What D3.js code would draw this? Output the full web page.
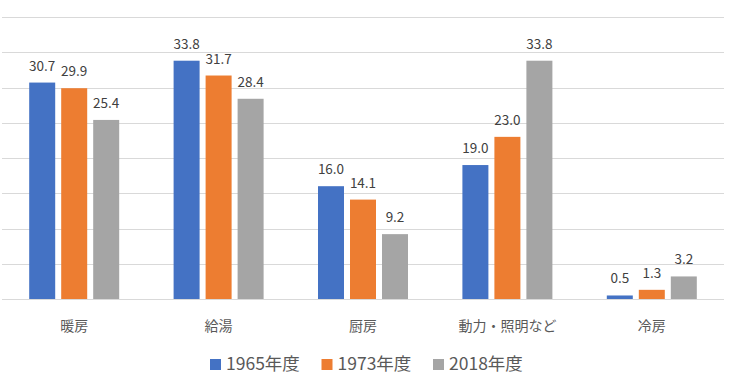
<!DOCTYPE html>
<html>
<head>
<meta charset="utf-8">
<script src="https://cdn.jsdelivr.net/npm/d3@7"></script>
<style>
  body { margin: 0; background: #fff; }
  text { font-family: "Noto Sans CJK JP", "Noto Sans", sans-serif; }
</style>
</head>
<body>
<svg id="drawing_region"></svg>
<script>
const categories = ["暖房", "給湯", "厨房", "動力・照明など", "冷房"];
const seriesNames = ["1965年度", "1973年度", "2018年度"];
const values1965 = [30.7, 33.8, 16.0, 19.0, 0.5];
const values1973 = [29.9, 31.7, 14.1, 23.0, 1.3];
const values2018 = [25.4, 28.4, 9.2, 33.8, 3.2];
const colors = ["#4472C4", "#ED7D31", "#A5A5A5"];
const yTicks = [0, 5, 10, 15, 20, 25, 30, 35, 40];

const W = 730, H = 384;
const margin = {top: 17, right: 6, bottom: 85, left: 2};
const innerW = W - margin.left - margin.right;
const innerH = H - margin.top - margin.bottom;

const svg = d3.select('#drawing_region')
    .attr('width', W)
    .attr('height', H);

const chart = svg.append('g')
    .attr('transform', `translate(${margin.left}, ${margin.top})`);

const xscale = d3.scaleBand()
    .domain(categories)
    .range([0, innerW]);

const yscale = d3.scaleLinear()
    .domain([0, 40])
    .range([innerH, 0]);

// gridlines
chart.append('g')
    .selectAll('line')
    .data(yTicks)
    .join('line')
    .attr('x1', 0)
    .attr('x2', innerW)
    .attr('y1', d => Math.round(yscale(d)) + 0.5)
    .attr('y2', d => Math.round(yscale(d)) + 0.5)
    .attr('stroke', '#D9D9D9')
    .attr('stroke-width', 1);

// bars inside each group
const barW = 26, barGap = 6;
const inner = d3.scaleBand()
    .domain(seriesNames)
    .range([0, barW * 3 + barGap * 2])
    .paddingInner(barGap / (barW + barGap));

const allSeries = [values1965, values1973, values2018];
const rows = [];
categories.forEach((c, i) => {
    seriesNames.forEach((s, j) => {
        rows.push({cat: c, series: s, value: allSeries[j][i], color: colors[j]});
    });
});

const groupOffset = (xscale.bandwidth() - (barW * 3 + barGap * 2)) / 2;

chart.append('g')
    .selectAll('rect')
    .data(rows)
    .join('rect')
    .attr('x', d => xscale(d.cat) + groupOffset + inner(d.series))
    .attr('y', d => yscale(d.value))
    .attr('width', inner.bandwidth())
    .attr('height', d => innerH - yscale(d.value))
    .attr('fill', d => d.color);

chart.append('g')
    .selectAll('text')
    .data(rows)
    .join('text')
    .attr('x', d => xscale(d.cat) + groupOffset + inner(d.series) + inner.bandwidth() / 2)
    .attr('y', d => yscale(d.value) - 12)
    .attr('text-anchor', 'middle')
    .attr('font-size', 13.5)
    .attr('fill', '#404040')
    .text(d => d.value.toFixed(1));

// category labels
const xaxis = d3.axisBottom(xscale).tickSize(0).tickPadding(0);
const xg = chart.append('g')
    .attr('transform', `translate(0, ${innerH})`)
    .call(xaxis);
xg.select('.domain').remove();
xg.selectAll('text')
    .attr('y', 32)
    .attr('dy', 0)
    .attr('font-size', 14)
    .attr('fill', '#595959')
    .attr('font-family', '"Noto Sans CJK JP", sans-serif');

// legend
const legend = svg.append('g')
    .attr('transform', 'translate(210, 359)');
const item = legend.selectAll('g')
    .data(seriesNames)
    .join('g')
    .attr('transform', (d, i) => `translate(${i * 111.5}, 0)`);
item.append('rect')
    .attr('width', 11)
    .attr('height', 11)
    .attr('fill', (d, i) => colors[i]);
item.append('text')
    .attr('x', 16)
    .attr('y', 11)
    .attr('font-size', 17.5)
    .attr('fill', '#595959')
    .text(d => d);
</script>
</body>
</html>
